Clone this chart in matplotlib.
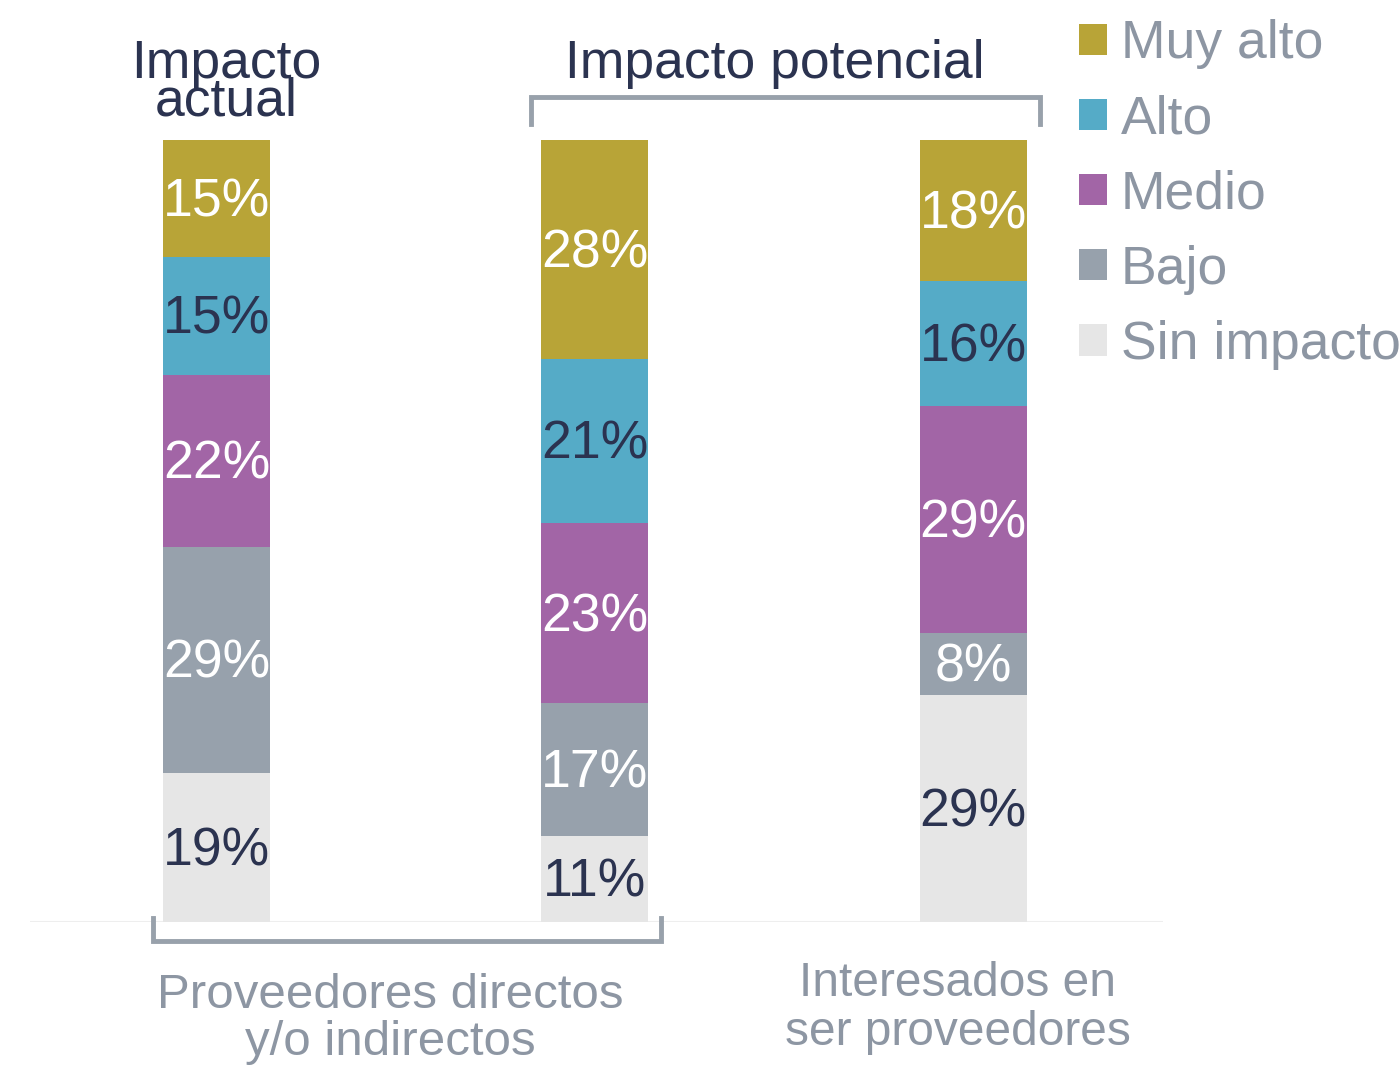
import numpy as np
import matplotlib
matplotlib.use("Agg")
from matplotlib import pyplot as plt
from matplotlib.patches import Patch
from matplotlib.lines import Line2D

plt.rcParams['font.family'] = ['Liberation Sans', 'DejaVu Sans']

# data
groups = ['Proveedores directos\ny/o indirectos (actual)',
          'Proveedores directos\ny/o indirectos (potencial)',
          'Interesados en\nser proveedores']
levels = ['Muy alto', 'Alto', 'Medio', 'Bajo', 'Sin impacto']
muy_alto = [15, 28, 18]
alto = [15, 21, 16]
medio = [22, 23, 29]
bajo = [29, 17, 8]
sin_impacto = [19, 11, 29]

colors = {'Muy alto': '#b8a437', 'Alto': '#55abc7', 'Medio': '#a265a6',
          'Bajo': '#97a1ac', 'Sin impacto': '#e6e6e6'}
label_colors = {'Muy alto': 'white', 'Alto': '#2b3350', 'Medio': 'white',
                'Bajo': 'white', 'Sin impacto': '#2b3350'}
DARK = '#2b3350'
GREY = '#8d96a3'
BRACKET = '#98a1ab'

fig = plt.figure(figsize=(13.99, 10.68), dpi=100)
W, H = 1399, 1068
ax = fig.add_axes([30 / W, (H - 922) / H, 1133 / W, 782 / H])

x = np.arange(len(groups))
series = [('Sin impacto', sin_impacto), ('Bajo', bajo), ('Medio', medio),
          ('Alto', alto), ('Muy alto', muy_alto)]
bottom = np.zeros(len(groups))
for name, vals in series:
    vals = np.array(vals, dtype=float)
    ax.bar(x, vals, width=0.283, bottom=bottom, color=colors[name], linewidth=0)
    for xi, b, v in zip(x, bottom, vals):
        ax.text(xi, b + v / 2 - 0.5, f'{int(v)}%', ha='center', va='center',
                fontsize=38.5, color=label_colors[name])
    bottom += vals

ax.set_xlim(-0.493, 2.502)
ax.set_ylim(0, 100)
ax.axis('off')
ax.axhline(0, color='#eeeeee', lw=1.5, zorder=0)

# titles
fig.text(226 / W, 1 - 64 / H, 'Impacto', ha='center', va='center', fontsize=38.5, color=DARK)
fig.text(226 / W, 1 - 101 / H, 'actual', ha='center', va='center', fontsize=38.5, color=DARK)
fig.text(775 / W, 1 - 64 / H, 'Impacto potencial', ha='center', va='center', fontsize=38.5, color=DARK)

# brackets
def px(xp, yp):
    return xp / W, 1 - yp / H

top_br = [px(531, 124), px(531, 97), px(1040, 97), px(1040, 124)]
fig.add_artist(Line2D([p[0] for p in top_br], [p[1] for p in top_br],
                      color=BRACKET, lw=3.5, solid_joinstyle='miter'))
bot_br = [px(153, 918), px(153, 941), px(661, 941), px(661, 918)]
fig.add_artist(Line2D([p[0] for p in bot_br], [p[1] for p in bot_br],
                      color=BRACKET, lw=3.5, solid_joinstyle='miter'))

# category labels
fig.text(390 / W, 1 - 1019 / H, 'Proveedores directos\ny/o indirectos', ha='center',
         va='center', fontsize=35.5, color=GREY, linespacing=1.05)
fig.text(958 / W, 1 - 1008 / H, 'Interesados en\nser proveedores', ha='center',
         va='center', fontsize=34.5, color=GREY, linespacing=1.12)

# legend
handles = [Patch(facecolor=colors[l], edgecolor='none') for l in levels]
fig.legend(handles, levels, loc='upper left', bbox_to_anchor=(1058 / W, 1 + 2 / H),
           frameon=False, fontsize=38.5, labelcolor=GREY, handlelength=0.52,
           handleheight=0.52, handletextpad=0.25, labelspacing=0.47, borderaxespad=0)

fig.savefig('out.png', dpi=100)
